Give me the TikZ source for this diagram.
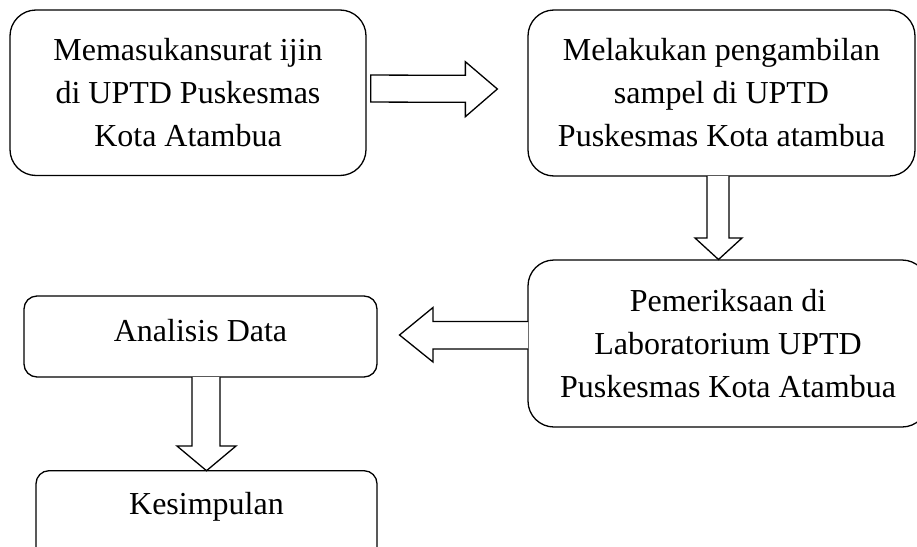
\documentclass[tikz,border=0pt]{standalone}
\usepackage{fontspec}
\setmainfont{Liberation Serif}
\usetikzlibrary{calc}
\begin{document}
\begin{tikzpicture}[x=1pt,y=-1pt,
  bigbox/.style={draw=black,line width=1.3pt,rounded corners=26pt,rectangle,inner sep=0pt,align=center,
    font=\fontsize{32}{43}\selectfont},
  smallbox/.style={draw=black,line width=1.3pt,rounded corners=13pt,rectangle,inner sep=0pt,align=center,
    font=\fontsize{32}{43}\selectfont},
  blockarrow/.style={draw=black,line width=1.3pt,fill=white,line join=miter}]
\useasboundingbox (0,0) rectangle (917,546);

\node[bigbox,minimum width=356pt,minimum height=165.5pt] (b1) at (188,92.75)
  {Memasukansurat ijin\\di UPTD Puskesmas\\Kota Atambua};
\node[bigbox,minimum width=387pt,minimum height=166pt] (b2) at (721.5,93)
  {Melakukan pengambilan\\sampel di UPTD\\Puskesmas Kota atambua};
\node[bigbox,minimum width=400pt,minimum height=167pt] (b3) at (728,343.5)
  {Pemeriksaan di\\Laboratorium UPTD\\Puskesmas Kota Atambua};
\node[smallbox,minimum width=353pt,minimum height=81pt,text height=22pt,text depth=13pt] (b4) at (200.5,336.5)
  {Analisis Data};
\node[smallbox,minimum width=341pt,minimum height=89.3pt,text height=22pt,text depth=24.7pt] (b5) at (206.5,515.35)
  {Kesimpulan};

% right arrow b1 -> b2
\coordinate (a1s) at ($(b1.east)+(4,-4)$);
\coordinate (a1t) at ($(b2.west)+(-30,-4)$);
\draw[blockarrow] ($(a1s)+(0,-13.7)$) -- ($(a1t)+(-32,-13.7)$) -- ($(a1t)+(-32,-27.3)$) -- (a1t)
  -- ($(a1t)+(-32,27.7)$) -- ($(a1t)+(-32,13.3)$) -- ($(a1s)+(0,13.3)$) -- cycle;

% down arrow b2 -> b3
\coordinate (a2s) at (718,176);
\coordinate (a2t) at (718.5,259.5);
\draw[blockarrow] ($(a2s)+(-11,0)$) -- ($(a2s)+(-11,62)$) -- ($(a2s)+(-23,62)$) -- (a2t)
  -- ($(a2s)+(24,62)$) -- ($(a2s)+(11,62)$) -- ($(a2s)+(11,0)$);

% left arrow b3 -> b4
\coordinate (a3s) at (528,335);
\coordinate (a3t) at (399.5,335);
\draw[blockarrow] ($(a3s)+(0,-13.5)$) -- ($(a3t)+(33.5,-13.5)$) -- ($(a3t)+(33.5,-27.5)$) -- (a3t)
  -- ($(a3t)+(33.5,27)$) -- ($(a3t)+(33.5,14)$) -- ($(a3s)+(0,14)$);

% down arrow b4 -> b5
\coordinate (a4s) at (206,377);
\coordinate (a4t) at (206.5,470.7);
\draw[blockarrow] ($(a4s)+(-14,0)$) -- ($(a4s)+(-14,69)$) -- ($(a4s)+(-29,69)$) -- (a4t)
  -- ($(a4s)+(30,69)$) -- ($(a4s)+(14,69)$) -- ($(a4s)+(14,0)$);
\end{tikzpicture}
\end{document}
